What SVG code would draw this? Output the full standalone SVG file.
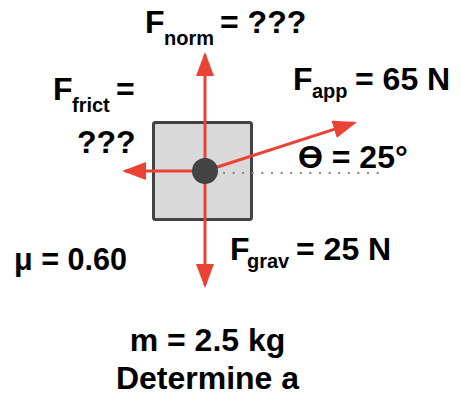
<svg xmlns="http://www.w3.org/2000/svg" width="461" height="398" viewBox="0 0 461 398">
<style>
text{font-family:"Liberation Sans",Arial,sans-serif;font-weight:bold;fill:#000}
.m{font-size:32px}
.s{font-size:20px}
.f{stroke:#ea4335;stroke-width:3;fill:none;marker-end:url(#ah)}
</style>
<defs>
<marker id="ah" viewBox="0 0 8 6" markerWidth="8" markerHeight="6" refX="7" refY="3" orient="auto" markerUnits="strokeWidth">
<path d="M0,0 L8,3 L0,6 Z" fill="#ea4335"/>
</marker>
</defs>
<rect width="461" height="398" fill="#fff"/>
<g id="block">
<rect x="153.5" y="122.5" width="98" height="97" rx="2" fill="#d9d9d9" stroke="#434343" stroke-width="3"/>
</g>
<g id="reference-line">
<line x1="223" y1="173" x2="384" y2="173" stroke="#888" stroke-width="2" stroke-dasharray="2 7.6"/>
</g>
<g id="connectors">
<line class="f" x1="205" y1="171" x2="205" y2="55"/>
<line class="f" x1="205" y1="171" x2="205" y2="285"/>
<line class="f" x1="205" y1="171" x2="125" y2="171"/>
<line class="f" x1="205" y1="171" x2="354.1" y2="122.9"/>
</g>
<g id="center">
<circle cx="205" cy="171" r="13" fill="#434343"/>
</g>
<g id="fnorm">
<text class="m" x="145" y="33">F</text>
<text class="s" x="164" y="45">norm</text>
<text class="m" x="220" y="33">= ???</text>
</g>
<g id="fapp">
<text class="m" x="293" y="90">F</text>
<text class="s" x="312" y="98">app</text>
<text class="m" x="355" y="90">= 65 N</text>
</g>
<g id="ffrict">
<text class="m" x="53" y="100">F</text>
<text class="s" x="72" y="112">frict</text>
<text class="m" x="116" y="100">=</text>
<text class="m" x="77" y="153">???</text>
</g>
<g id="theta">
<text class="m" x="298" y="168">Ө = 25°</text>
</g>
<g id="fgrav">
<text class="m" x="230" y="260">F</text>
<text class="s" x="247" y="268">grav</text>
<text class="m" x="296" y="260">= 25 N</text>
</g>
<g id="mu">
<text class="m" x="14" y="270" textLength="113" lengthAdjust="spacingAndGlyphs">μ = 0.60</text>
</g>
<g id="given">
<text class="m" x="207.5" y="351" text-anchor="middle">m = 2.5 kg</text>
<text class="m" x="207.5" y="389" text-anchor="middle">Determine a</text>
</g>
</svg>
